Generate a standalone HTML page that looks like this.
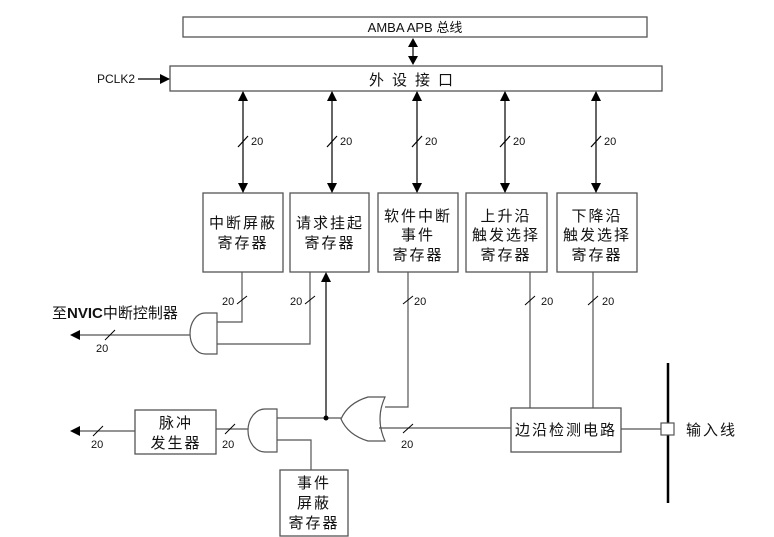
<!DOCTYPE html>
<html><head><meta charset="utf-8"><style>
html,body{margin:0;padding:0;background:#fff;}
svg{display:block;}
text{font-family:"Liberation Sans","Noto Sans CJK SC",sans-serif;fill:#111;}
.c{font-size:15px;letter-spacing:2px;text-anchor:middle;}
.n{font-size:11px;}
</style></head><body>
<svg width="774" height="537" viewBox="0 0 774 537" xmlns="http://www.w3.org/2000/svg">
<defs>
<marker id="a" markerWidth="10" markerHeight="10" refX="9" refY="5" orient="auto-start-reverse" markerUnits="userSpaceOnUse"><path d="M0,0 L10,5 L0,10 z" fill="#000"/></marker>
</defs>
<g fill="none" stroke="#555" stroke-width="1.3">
<rect x="183" y="17" width="464" height="20"/>
<rect x="170" y="66" width="492" height="25"/>
<rect x="203" y="193" width="80" height="79"/>
<rect x="290" y="193" width="79" height="79"/>
<rect x="378" y="193" width="80" height="79"/>
<rect x="466" y="193" width="81" height="79"/>
<rect x="557" y="193" width="80" height="79"/>
<rect x="511" y="408" width="110" height="44"/>
<rect x="135" y="410" width="81" height="44"/>
<rect x="280" y="470" width="68" height="66"/>
</g>
<line x1="413" y1="40" x2="413" y2="63" stroke="#000" stroke-width="1.2"/>
<path d="M413,38 L408,47 L418,47 Z M413,65 L408,56 L418,56 Z" fill="#000"/>
<line x1="138" y1="79" x2="169" y2="79" stroke="#000" stroke-width="1.2" marker-end="url(#a)"/>
<g stroke="#000" stroke-width="1.2">
<line x1="243" y1="92" x2="243" y2="192" marker-start="url(#a)" marker-end="url(#a)"/>
<line x1="332" y1="92" x2="332" y2="192" marker-start="url(#a)" marker-end="url(#a)"/>
<line x1="417" y1="92" x2="417" y2="192" marker-start="url(#a)" marker-end="url(#a)"/>
<line x1="505" y1="92" x2="505" y2="192" marker-start="url(#a)" marker-end="url(#a)"/>
<line x1="596" y1="92" x2="596" y2="192" marker-start="url(#a)" marker-end="url(#a)"/>
<line x1="238" y1="147" x2="248" y2="136"/><line x1="327" y1="147" x2="337" y2="136"/><line x1="412" y1="147" x2="422" y2="136"/><line x1="500" y1="147" x2="510" y2="136"/><line x1="591" y1="147" x2="601" y2="136"/>
</g>
<g fill="none" stroke="#555" stroke-width="1.2">
<polyline points="242,272 242,322 217,322"/>
<polyline points="310,272 310,344 217,344"/>
<line x1="326" y1="418" x2="326" y2="280" stroke="#000"/>
<polyline points="408,272 408,407 385,407"/>
<line x1="530" y1="272" x2="530" y2="408"/>
<line x1="593" y1="272" x2="593" y2="408"/>
<path d="M217,313 L205,313 A15,20.5 0 0 0 205,354 L217,354 Z"/>
<path d="M277,409 L265,409 A17,21.5 0 0 0 265,452 L277,452 Z"/>
<path d="M385,397 Q375,419 385,441 L368,441 Q348,435 341,419 Q348,403 368,397 Z"/>
<line x1="341" y1="418" x2="277" y2="418"/>
<polyline points="277,440 311,440 311,470"/>
<line x1="248" y1="429" x2="216" y2="429"/>
<line x1="379" y1="428" x2="511" y2="428"/>
<line x1="621" y1="429" x2="661" y2="429"/>
<line x1="190" y1="335" x2="78" y2="335"/>
<line x1="135" y1="431" x2="78" y2="431"/>
</g>
<circle cx="326" cy="418" r="2.5" fill="#000"/>
<path d="M326,272 L321,282 L331,282 Z" fill="#000"/>
<path d="M70,335 L80,330 L80,340 Z" fill="#000"/>
<path d="M70,431 L80,426 L80,436 Z" fill="#000"/>
<line x1="668" y1="363" x2="668" y2="503" stroke="#000" stroke-width="2.5"/>
<rect x="661" y="423" width="13" height="12" fill="#fff" stroke="#555" stroke-width="1.2"/>
<g stroke="#000" stroke-width="1">
<line x1="237" y1="304" x2="247" y2="296"/><line x1="305" y1="304" x2="315" y2="296"/><line x1="403" y1="304" x2="413" y2="296"/><line x1="525" y1="305" x2="535" y2="296"/><line x1="588" y1="305" x2="598" y2="296"/>
<line x1="105" y1="340" x2="115" y2="330"/><line x1="93" y1="436" x2="103" y2="426"/><line x1="225" y1="434" x2="235" y2="424"/><line x1="403" y1="433" x2="413" y2="424"/>
</g>
<text x="415" y="32" font-size="13" text-anchor="middle">AMBA APB 总线</text>
<text x="415" y="85" class="c" style="letter-spacing:8px">外设接口</text>
<text x="97" y="83" font-size="12">PCLK2</text>
<g class="n"><text x="251" y="145">20</text><text x="340" y="145">20</text><text x="425" y="145">20</text><text x="513" y="145">20</text><text x="604" y="145">20</text>
<text x="222" y="305">20</text><text x="290" y="305">20</text><text x="414" y="305">20</text><text x="541" y="305">20</text><text x="602" y="305">20</text>
<text x="96" y="352">20</text><text x="91" y="448">20</text><text x="222" y="448">20</text><text x="401" y="448">20</text></g>
<g class="c">
<text x="243" y="228">中断屏蔽</text><text x="243" y="248">寄存器</text>
<text x="330" y="228">请求挂起</text><text x="330" y="248">寄存器</text>
<text x="418" y="221">软件中断</text><text x="418" y="240">事件</text><text x="418" y="260">寄存器</text>
<text x="506" y="221">上升沿</text><text x="506" y="240">触发选择</text><text x="506" y="260">寄存器</text>
<text x="597" y="221">下降沿</text><text x="597" y="240">触发选择</text><text x="597" y="260">寄存器</text>
<text x="566" y="435">边沿检测电路</text>
<text x="176" y="428">脉冲</text><text x="176" y="448">发生器</text>
<text x="314" y="488">事件</text><text x="314" y="508">屏蔽</text><text x="314" y="528">寄存器</text>
</g>
<text x="52" y="318" font-size="15">至<tspan font-weight="bold">NVIC</tspan>中断控制器</text>
<text x="686" y="435" font-size="15" style="letter-spacing:2px">输入线</text>
</svg>
</body></html>
